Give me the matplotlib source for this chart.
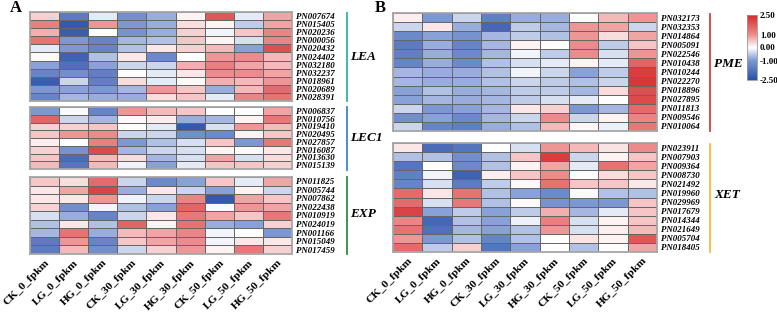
import numpy as np
import matplotlib.pyplot as plt
from matplotlib.colors import LinearSegmentedColormap
from matplotlib.lines import Line2D

samples = ["CK_0_fpkm", "LG_0_fpkm", "HG_0_fpkm", "CK_30_fpkm", "LG_30_fpkm",
           "HG_30_fpkm", "CK_50_fpkm", "LG_50_fpkm", "HG_50_fpkm"]

lea_genes = ["PN007674", "PN015405", "PN020236", "PN000056", "PN020432", "PN024402",
             "PN032180", "PN032237", "PN018961", "PN020689", "PN028391"]
lea_vals = [
    [0.4, -1.6, -0.2, -1.2, -0.8, 0.1, 1.8, -0.2, 0.8],
    [1.2, -2.3, 0.9, -1.0, -0.8, 0.3, 0.1, -0.5, 0.8],
    [0.7, -2.2, 0.0, -1.1, -0.8, 0.4, -0.1, 0.5, 1.1],
    [1.4, -1.0, -1.4, -0.7, -0.6, 0.5, 0.1, -0.3, 1.1],
    [-0.2, -1.0, -1.4, -0.6, 0.2, 0.4, 0.6, -0.9, 1.9],
    [0.05, -2.1, -0.6, 0.2, -1.3, 0.0, 0.9, 1.0, 0.6],
    [-0.9, -1.8, -0.9, -0.4, -0.4, 0.7, 1.2, 0.8, 0.6],
    [-1.4, -1.2, -1.5, 0.0, -0.2, 0.2, 1.0, 1.0, 0.8],
    [-2.2, -0.4, -1.5, 0.3, -0.2, 0.05, 0.7, 0.6, 0.9],
    [-1.0, -0.9, -1.0, -0.7, 0.9, 0.5, -0.8, 0.6, 1.5],
    [-1.4, -0.7, -0.8, -0.8, 0.3, 0.5, -0.2, 1.1, 1.4],
]

lec1_genes = ["PN006837", "PN010756", "PN019410", "PN020495", "PN027857", "PN016087",
              "PN013630", "PN015139"]
lec1_vals = [
    [-1.0, -0.05, -1.4, 0.9, 0.6, 0.5, 0.0, 0.0, 0.8],
    [1.6, -0.4, -0.7, 0.05, 0.15, -0.8, -0.7, 0.1, 1.3],
    [0.4, 0.4, 0.5, 0.0, -0.2, -2.3, -0.3, 0.9, 0.6],
    [0.5, 0.9, 1.0, -0.4, -0.4, -1.2, -1.3, 0.1, 0.5],
    [0.15, 0.0, 1.2, -1.0, -0.6, -0.3, 0.5, -1.0, 1.3],
    [0.4, -1.1, 2.0, -0.7, -0.4, -0.3, 0.1, 0.05, 0.2],
    [0.5, -1.9, 0.6, 0.3, -0.7, -0.3, 0.8, -0.3, 0.3],
    [0.6, -1.7, 0.6, -0.1, -0.9, -0.2, 0.5, 0.5, 0.4],
]

exp_genes = ["PN011825", "PN005744", "PN007862", "PN022438", "PN010919", "PN024019",
             "PN001166", "PN015049", "PN017459"]
exp_vals = [
    [0.5, 0.3, 1.5, -0.4, -1.3, -0.9, 0.5, -0.2, 0.8],
    [0.2, 0.8, 2.1, -0.8, 0.2, -0.4, -0.9, 0.1, -0.4],
    [0.2, 0.2, 0.9, -0.1, -0.4, 1.1, -2.3, 0.8, 0.5],
    [0.4, -1.2, -0.1, -0.6, -0.9, 1.6, -0.05, 0.9, 0.8],
    [-0.3, -0.8, -1.4, -0.4, 0.2, 1.3, 0.8, 0.5, 1.3],
    [-0.6, 0.2, -0.6, 1.6, 0.1, 1.4, -0.8, -0.9, 0.4],
    [-0.7, 1.4, -0.8, 0.6, 0.8, 1.1, -0.1, 0.0, -1.0],
    [-1.6, 0.9, -1.4, 0.5, 0.8, 1.0, -0.1, 0.2, 0.2],
    [-1.6, 0.6, -1.2, -0.4, 0.4, 0.9, 0.1, 1.3, 0.4],
]

pme_genes = ["PN032173", "PN032353", "PN014864", "PN005091", "PN022546", "PN010438",
             "PN010244", "PN022270", "PN018896", "PN027895", "PN011813", "PN009546",
             "PN010064"]
pme_vals = [
    [0.15, -1.0, -0.4, -1.5, -0.8, -0.8, 0.0, 0.6, 0.9],
    [-0.4, 0.2, -0.8, -2.0, -0.5, -0.7, 0.9, 0.8, -0.4],
    [-1.3, -0.9, -1.1, -0.7, -0.5, -0.6, 0.9, 0.3, 0.8],
    [-1.6, -0.8, -1.4, -0.7, 0.1, 0.0, 1.0, -0.5, 0.5],
    [-1.5, -0.8, -1.3, -0.7, -0.1, -0.5, 1.0, -0.3, 0.9],
    [-1.4, -0.8, -1.3, -0.6, -0.3, -0.2, 0.1, -0.2, 1.6],
    [-0.7, -0.8, -0.8, -0.6, -0.1, -0.4, -0.9, -0.5, 2.2],
    [-0.7, -0.8, -0.8, -0.6, -0.4, -0.5, -0.6, -0.4, 2.3],
    [-0.9, -0.6, -0.8, -0.7, -0.5, -0.5, -0.7, 0.3, 1.9],
    [-0.9, -0.7, -0.8, -0.7, -0.5, -0.3, -0.2, 0.0, 2.0],
    [-0.4, -1.0, -0.9, -0.7, 0.2, 0.4, -1.0, -0.7, 1.5],
    [-1.2, -0.9, -1.3, -0.7, -0.4, 1.0, -0.4, 0.1, 1.1],
    [-0.4, -1.4, -1.5, -0.8, -0.6, 0.6, 0.05, -0.15, 1.3],
]

xet_genes = ["PN023911", "PN007903", "PN009364", "PN008730", "PN021492", "PN019960",
             "PN029969", "PN017679", "PN014344", "PN021649", "PN005704", "PN018405"]
xet_vals = [
    [0.2, -1.9, -1.7, 0.0, -0.3, 0.9, 0.6, 0.25, 1.0],
    [-0.6, -0.6, -1.2, -0.6, 0.5, 2.2, -0.4, 0.1, 0.5],
    [-1.7, 0.0, -1.3, -0.6, 0.1, 0.8, -0.2, 1.4, 0.8],
    [-1.5, -0.1, -2.1, 0.15, 0.5, 1.0, 0.0, 0.3, 0.5],
    [-1.4, -0.3, -1.6, -0.5, 0.05, 1.4, 0.5, 0.5, 0.2],
    [1.5, 0.2, 1.4, -0.6, -0.9, -1.3, -0.05, -0.6, -0.6],
    [1.5, -0.3, 1.3, -0.6, 0.05, -1.1, -1.0, -1.0, 0.5],
    [2.1, -0.9, -0.5, -0.9, -0.5, 0.7, -0.7, -0.2, 0.5],
    [1.1, -2.0, -0.6, -0.9, -0.15, 1.2, -0.3, 0.1, 0.5],
    [1.4, -1.8, -0.7, -0.9, -0.6, 0.9, -0.3, 0.15, 0.6],
    [0.9, -1.0, -0.6, -1.4, -0.6, 0.0, 0.25, 0.1, 1.8],
    [1.5, -0.5, 0.4, -1.7, -0.9, 0.0, -0.6, 0.0, 0.8],
]

cbar_ticks = [-2.5, -1.0, 0.0, 1.0, 2.5]

W, H = 777, 313
fig = plt.figure(figsize=(W / 100, H / 100), dpi=100)
cmap = LinearSegmentedColormap.from_list(
    "hm", [(0.0, "#2A4FA8"), (0.3, "#7D98D2"), (0.5, "#ffffff"),
           (0.7, "#EC8C8C"), (1.0, "#D42A2A")])
serif = "Liberation Serif"


def px_axes(x0, y0, x1, y1):
    return fig.add_axes([x0 / W, 1 - y1 / H, (x1 - x0) / W, (y1 - y0) / H])


def draw_block(ax, genes, vals, show_x):
    m = np.array(vals)
    mesh = ax.pcolormesh(m, cmap=cmap, vmin=-2.5, vmax=2.5,
                         edgecolors="#666666", linewidth=0.6)
    ax.set_xlim(0, m.shape[1])
    ax.set_ylim(m.shape[0], 0)
    ax.yaxis.tick_right()
    ax.set_yticks(np.arange(len(genes)) + 0.5)
    ax.set_yticklabels(genes, family=serif, weight="bold", style="italic", fontsize=6.4)
    ax.tick_params(length=0, pad=3)
    if show_x:
        ax.set_xticks(np.arange(len(samples)) + 0.5)
        ax.set_xticklabels(samples, rotation=45, ha="right", va="top",
                           rotation_mode="anchor", family=serif, weight="bold", fontsize=8.2)
        ax.tick_params(axis="x", pad=3)
    else:
        ax.set_xticks([])
    for s in ax.spines.values():
        s.set_color("#a6a6a6")
        s.set_linewidth(1.3)
    return mesh


def group_line(x, y0, y1, color, label, tx, ty):
    fig.add_artist(Line2D([x / W, x / W], [1 - y0 / H, 1 - y1 / H],
                          color=color, lw=1.3, transform=fig.transFigure))
    fig.text(tx / W, 1 - ty / H, label, family=serif, weight="bold", style="italic",
             fontsize=9.5, ha="left", va="center")


# panel A
draw_block(px_axes(30, 12, 292, 101), lea_genes, lea_vals, False)
draw_block(px_axes(30, 107, 292, 169), lec1_genes, lec1_vals, False)
draw_block(px_axes(30, 177, 292, 254), exp_genes, exp_vals, True)
group_line(347, 13, 101, "#2BB5A5", "LEA", 350, 57)
group_line(347, 107, 170, "#3A86CF", "LEC1", 350, 138)
group_line(347, 177, 254, "#2E8B3E", "EXP", 350, 214)

# panel B
mesh = draw_block(px_axes(393, 13, 657, 131), pme_genes, pme_vals, False)
draw_block(px_axes(393, 143, 657, 252), xet_genes, xet_vals, True)
group_line(710, 14, 131, "#D44040", "PME", 714, 64)
group_line(710, 144, 252, "#F5B945", "XET", 714, 195)

fig.text(10 / W, 1 - 8 / H, "A", family=serif, weight="bold", fontsize=12, va="center")
fig.text(375 / W, 1 - 8 / H, "B", family=serif, weight="bold", fontsize=12, va="center")

cax = px_axes(747, 15, 757, 80)
cb = fig.colorbar(mesh, cax=cax, ticks=cbar_ticks)
cb.ax.set_yticklabels([f"{t:.2f}" for t in cbar_ticks], family=serif, weight="bold", fontsize=6.5)
cb.ax.tick_params(length=0, pad=2)
cb.outline.set_edgecolor("#999999")
cb.outline.set_linewidth(0.6)

fig.savefig("out.png", dpi=100)
